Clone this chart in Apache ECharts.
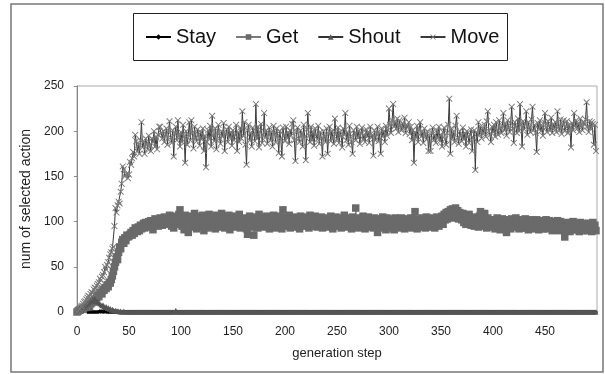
<!DOCTYPE html>
<html>
<head>
<meta charset="utf-8">
<script src="https://cdn.jsdelivr.net/npm/echarts@6/dist/echarts.min.js"></script>
<style>
  html, body { margin: 0; padding: 0; background: #fff; }
  #chart { width: 605px; height: 374px; }
</style>
</head>
<body>
<div id="chart"></div>
<script>
// values per generation step 0..499
const stay = [
  2,3,2,1,2,1,1,2,1,1, 0,0,0,0,0,0,0,0,0,0, 0,0,1,0,1,0,0,1,0,0, 0,0,0,0,0,0,0,0,0,0, 0,0,0,0,0,0,0,0,0,0,
  0,0,0,0,0,0,0,0,0,0, 0,0,0,0,0,0,0,0,0,0, 0,0,0,0,0,0,0,0,0,0, 0,0,0,0,0,0,0,0,0,0, 0,0,0,0,0,0,0,0,0,0,
  0,0,0,0,0,0,0,0,0,0, 0,0,0,0,0,0,0,0,0,0, 0,0,0,0,0,0,0,0,0,0, 0,0,0,0,0,0,0,0,0,0, 0,0,0,0,0,0,0,0,0,0,
  0,0,0,0,0,0,0,0,0,0, 0,0,0,0,0,0,0,0,0,0, 0,0,0,0,0,0,0,0,0,0, 0,0,0,0,0,0,0,0,0,0, 0,0,0,0,0,0,0,0,0,0,
  0,0,0,0,0,0,0,0,0,0, 0,0,0,0,0,0,0,0,0,0, 0,0,0,0,0,0,0,0,0,0, 0,0,0,0,0,0,0,0,0,0, 0,0,0,0,0,0,0,0,0,0,
  0,0,0,0,0,0,0,0,0,0, 0,0,0,0,0,0,0,0,0,0, 0,0,0,0,0,0,0,0,0,0, 0,0,0,0,0,0,0,0,0,0, 0,0,0,0,0,0,0,0,0,0,
  0,0,0,0,0,0,0,0,0,0, 0,0,0,0,0,0,0,0,0,0, 0,0,0,0,0,0,0,0,0,0, 0,0,0,0,0,0,0,0,0,0, 0,0,0,0,0,0,0,0,0,0,
  0,0,0,0,0,0,0,0,0,0, 0,0,0,0,0,0,0,0,0,0, 0,0,0,0,0,0,0,0,0,0, 0,0,0,0,0,0,0,0,0,0, 0,0,0,0,0,0,0,0,0,0,
  0,0,0,0,0,0,0,0,0,0, 0,0,0,0,0,0,0,0,0,0, 0,0,0,0,0,0,0,0,0,0, 0,0,0,0,0,0,0,0,0,0, 0,0,0,0,0,0,0,0,0,0,
  0,0,0,0,0,0,0,0,0,0, 0,0,0,0,0,0,0,0,0,0, 0,0,0,0,0,0,0,0,0,0, 0,0,0,0,0,0,0,0,0,0, 0,0,0,0,0,0,0,0,0,0
];

const get = [
  0,1,2,2,3,4,3,5,6,5, 7,8,6,9,10,12,11,14,13,16, 18,17,21,22,20,25,24,27,26,30, 28,33,32,36,40,45,50,55,61,58,
  66,72,70,77,80,76,82,79,85,83, 84,86,88,85,90,87,93,91,89,94, 90,96,92,95,98,93,99,97,94,100,
  96,101,98,91,100,103,97,99,95,102, 104,99,96,101,105,98,103,100,97,107, 101,95,104,93,106,100,103,97,108,113,
  104,95,101,91,107,99,103,88,106,98, 96,104,94,109,101,92,106,98,103,95, 100,107,90,104,96,102,93,108,98,105,
  95,103,99,92,107,97,104,94,101,109, 97,105,93,103,100,95,107,91,104,100, 106,96,103,94,105,99,108,93,102,97,
  104,95,101,92,86,103,106,96,102,94, 85,105,97,103,93,108,99,95,104,96, 102,94,106,97,103,92,105,99,95,107,
  97,104,93,102,96,106,99,92,113,101, 95,105,97,102,107,93,103,96,105,99, 94,104,100,97,92,106,99,103,95,105,
  100,96,104,93,107,99,95,103,97,106, 99,94,104,100,96,105,93,103,99,95, 104,97,102,94,106,99,92,103,96,105,
  100,95,104,97,93,103,99,107,96,102, 94,104,97,102,92,105,99,95,115,101, 97,93,104,99,95,106,100,92,103,96,
  105,97,94,103,99,93,104,95,102,88, 97,103,93,100,105,95,102,91,104,98, 94,103,96,101,92,91,104,97,95,102,
  93,100,104,95,102,92,98,103,94,101, 96,104,93,102,95,111,99,92,103,97, 102,94,104,96,101,93,105,95,103,98,
  94,102,96,104,93,100,105,97,95,103, 100,106,97,108,102,110,103,111,105,113, 107,114,104,111,115,106,112,103,110,105,
  102,109,99,107,97,105,99,108,101,96, 105,99,95,104,97,102,94,106,111,96, 103,95,109,99,93,104,96,102,94,98,
  95,102,92,99,104,94,101,91,97,103, 93,101,95,88,102,94,99,92,103,96, 101,94,104,95,99,92,102,96,93,101,
  95,103,93,99,91,101,94,102,97,92, 100,93,102,96,91,101,94,98,92,100, 95,102,92,98,101,93,97,90,100,95,
  98,92,101,95,90,100,94,97,91,83, 96,90,99,94,89,98,93,100,91,97, 91,98,94,89,99,93,97,90,98,92,
  96,90,98,93,97,89,99,92,96,90
];

const shout = [
  1,2,3,4,3,5,6,5,7,8, 9,10,12,11,13,14,12,15,13,11, 12,10,9,8,7,8,6,5,6,4, 5,3,4,2,3,2,1,2,1,1, 1,0,1,0,0,1,0,0,0,0,
  0,0,0,0,0,0,0,0,0,0, 0,0,0,0,0,0,0,0,0,0, 0,0,0,0,0,0,0,0,0,0, 0,0,0,0,0,0,0,0,0,0, 0,0,0,0,0,2,0,0,0,0,
  0,0,0,0,0,0,0,0,0,0, 0,0,0,0,0,0,0,0,0,0, 0,0,0,0,0,0,0,0,0,0, 0,0,0,0,0,0,0,0,0,0, 0,0,0,0,0,0,0,0,0,0,
  0,0,0,0,0,0,0,0,0,0, 0,0,0,0,0,0,0,0,0,0, 0,0,0,0,0,0,0,0,0,0, 0,0,0,0,0,0,0,0,0,0, 0,0,0,0,0,0,0,0,0,0,
  0,0,0,0,0,0,0,0,0,0, 0,0,0,0,0,0,0,0,0,0, 0,0,0,0,0,0,0,0,0,0, 0,0,0,0,0,0,0,0,0,0, 0,0,0,0,0,0,0,0,0,0,
  0,0,0,0,0,0,0,0,0,0, 0,0,0,0,0,0,0,0,0,0, 0,0,0,0,0,0,0,0,0,0, 0,0,0,0,0,0,0,0,0,0, 0,0,0,0,0,0,0,0,0,0,
  0,0,0,0,0,0,0,0,0,0, 0,0,0,0,0,0,0,0,0,0, 0,0,0,0,0,0,0,0,0,0, 0,0,0,0,0,0,0,0,0,0, 0,0,0,0,0,0,0,0,0,0,
  0,0,0,0,0,0,0,0,0,0, 0,0,0,0,0,0,0,0,0,0, 0,0,0,0,0,0,0,0,0,0, 0,0,0,0,0,0,0,0,0,0, 0,0,0,0,0,0,0,0,0,0,
  0,0,0,0,0,0,0,0,0,0, 0,0,0,0,0,0,0,0,0,0, 0,0,0,0,0,0,0,0,0,0, 0,0,0,0,0,0,0,0,0,0, 0,0,0,0,0,0,0,0,0,0,
  0,0,0,0,0,0,0,0,0,0, 0,0,0,0,0,0,0,0,0,0, 0,0,0,0,0,0,0,0,0,0, 0,0,0,0,0,0,0,0,0,0, 0,0,0,0,0,0,0,0,0,0
];

const move = [
  0,1,3,4,6,7,9,11,12,14, 16,18,17,20,22,21,25,27,26,29, 31,33,37,35,39,41,44,50,47,52, 55,60,64,66,70,72,95,115,110,118,
  122,120,133,142,161,158,150,152,153,148, 152,166,163,170,177,172,196,189,178,185, 175,190,210,182,188,175,192,186,180,195,
  185,178,192,188,200,183,194,180,196,205, 205,198,192,200,188,196,203,185,199,211, 193,187,201,172,197,205,190,212,195,183,
  199,188,207,194,165,200,185,196,210,190, 212,198,181,205,193,189,202,196,184,199, 191,203,178,195,160,188,201,192,206,183,
  217,195,189,203,180,198,207,192,186,200, 194,209,178,197,202,188,205,193,199,184, 201,190,196,207,178,199,188,204,192,222,
  195,210,185,163,201,207,190,198,183,204, 197,189,230,192,205,182,199,208,187,196, 220,193,201,186,197,204,190,199,183,206,
  198,188,203,195,176,200,191,172,204,196, 189,205,193,199,186,201,195,208,212,190, 167,199,204,192,188,201,196,183,207,194,
  168,202,220,195,188,205,190,199,184,203, 196,191,206,186,199,192,172,200,194,188, 203,175,197,205,189,200,193,186,214,198,
  191,204,187,199,195,182,203,196,220,190, 199,185,206,194,188,175,201,197,190,205, 193,200,186,198,204,191,196,188,202,194,
  199,187,205,193,196,173,201,190,197,205, 189,198,175,203,194,200,188,206,195,201, 225,207,198,212,230,205,210,203,214,199,
  212,206,201,209,203,215,198,207,204,210, 197,205,190,201,165,199,193,206,188,202, 210,194,199,187,203,196,191,200,178,195,
  178,198,204,190,196,187,201,193,205,189, 196,183,199,204,191,185,198,207,236,175, 203,192,199,188,206,217,193,186,200,195,
  189,204,191,198,183,200,194,187,196,202, 178,193,201,157,199,188,210,196,205,192, 203,198,207,194,211,222,200,196,188,205,
  199,207,194,210,201,196,212,203,198,206, 220,201,208,195,212,204,199,209,227,203, 187,210,205,198,214,200,230,207,183,211,
  202,208,222,196,210,204,199,213,227,201, 207,198,177,209,203,212,200,206,195,210, 220,204,199,211,206,201,215,198,208,203,
  210,199,222,205,201,213,197,207,212,200, 205,211,198,207,203,182,209,201,220,206, 212,203,208,199,214,206,201,210,207,213,
  232,205,199,211,203,210,208,185,207,178
];

const xTicks = { min: 0, max: 500, interval: 50 };
const yTicks = { min: 0, max: 250, interval: 50 };

const font = 'Liberation Sans, Arial, sans-serif';
const crossPath = 'path://M0,1L1,0L5,4L9,0L10,1L6,5L10,9L9,10L5,6L1,10L0,9L4,5Z';

function pairs (arr) {
  return arr.map((v, i) => [i, v]);
}

const chart = echarts.init(document.getElementById('chart'));

const option = {
  animation: false,
  backgroundColor: '#ffffff',
  graphic: [
    {
      type: 'rect',
      shape: { x: 11, y: 4, width: 592, height: 368 },
      style: { fill: 'none', stroke: '#777', lineWidth: 1.5 }
    },
    {
      type: 'rect',
      shape: { x: 133.5, y: 13.5, width: 374, height: 47 },
      style: { fill: 'none', stroke: '#222', lineWidth: 1 }
    }
  ],
  legend: {
    left: 145,
    top: 27,
    padding: 0,
    itemWidth: 25,
    itemHeight: 7,
    itemGap: 19,
    textStyle: { fontFamily: font, fontSize: 20, color: '#111' },
    data: ['Stay', 'Get', 'Shout', 'Move']
  },
  grid: {
    left: 77,
    right: 8,
    top: 86,
    bottom: 62,
    show: true,
    borderColor: '#aaa',
    borderWidth: 1
  },
  xAxis: {
    type: 'value',
    min: xTicks.min,
    max: xTicks.max,
    interval: xTicks.interval,
    name: 'generation step',
    nameLocation: 'middle',
    nameGap: 35,
    nameTextStyle: { fontFamily: font, fontSize: 13, color: '#222' },
    axisLine: { show: true, lineStyle: { color: '#888' } },
    axisTick: { show: false },
    axisLabel: { fontFamily: font, fontSize: 12, color: '#222', margin: 14, showMaxLabel: false },
    splitLine: { show: false }
  },
  yAxis: {
    type: 'value',
    min: yTicks.min,
    max: yTicks.max,
    interval: yTicks.interval,
    name: 'num of selected action',
    nameLocation: 'middle',
    nameGap: 31,
    nameTextStyle: { fontFamily: font, fontSize: 14, color: '#222' },
    axisLine: { show: true, lineStyle: { color: '#888' } },
    axisTick: { show: true, length: 3, lineStyle: { color: '#888' } },
    axisLabel: { fontFamily: font, fontSize: 12, color: '#222', margin: 13 },
    splitLine: { show: false }
  },
  series: [
    {
      name: 'Stay',
      type: 'line',
      data: pairs(stay),
      symbol: 'diamond',
      symbolSize: 4,
      itemStyle: { color: '#000' },
      lineStyle: { color: '#000', width: 1 }
    },
    {
      name: 'Get',
      type: 'line',
      data: pairs(get),
      symbol: 'rect',
      symbolSize: 7.5,
      itemStyle: { color: '#6a6a6a' },
      lineStyle: { color: '#7a7a7a', width: 1 }
    },
    {
      name: 'Shout',
      type: 'line',
      data: pairs(shout),
      symbol: 'triangle',
      symbolSize: 5,
      itemStyle: { color: '#555' },
      lineStyle: { color: '#333', width: 1 }
    },
    {
      name: 'Move',
      type: 'line',
      data: pairs(move),
      symbol: crossPath,
      symbolSize: 6.5,
      itemStyle: { color: '#777' },
      lineStyle: { color: '#3a3a3a', width: 1 }
    }
  ]
};

chart.setOption(option);
</script>
</body>
</html>
